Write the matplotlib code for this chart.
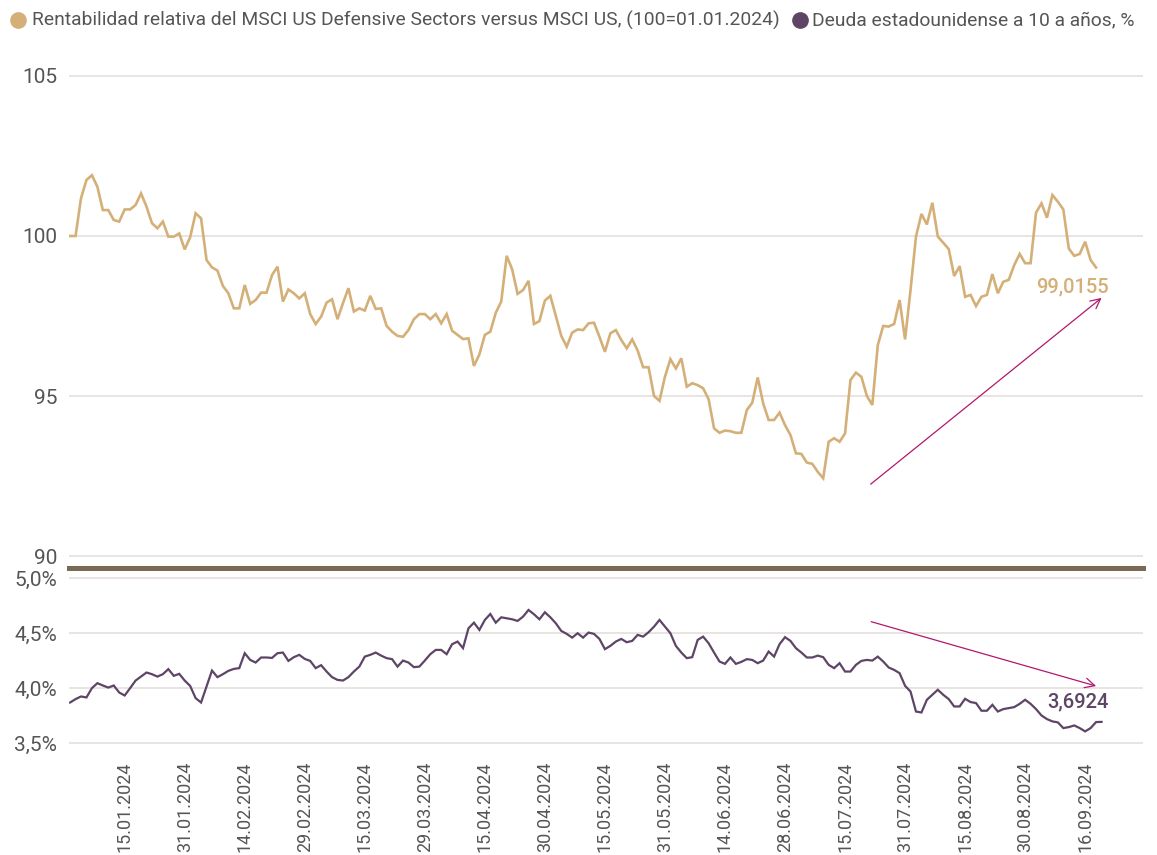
import matplotlib
matplotlib.use("Agg")
import matplotlib.pyplot as plt
import numpy as np
from matplotlib.lines import Line2D
from matplotlib.ticker import FuncFormatter

plt.rcParams["font.family"] = ["Roboto", "DejaVu Sans"]

LEGEND_REL = "Rentabilidad relativa del MSCI US Defensive Sectors versus MSCI US, (100=01.01.2024)"
LEGEND_YIELD = "Deuda estadounidense a 10 a años, %"

DATE_LABELS = [
    "15.01.2024", "31.01.2024", "14.02.2024", "29.02.2024", "15.03.2024",
    "29.03.2024", "15.04.2024", "30.04.2024", "15.05.2024", "31.05.2024",
    "14.06.2024", "28.06.2024", "15.07.2024", "31.07.2024", "15.08.2024",
    "30.08.2024", "16.09.2024",
]

# relative performance, index 100 = 01.01.2024 (one value per trading day)
DEFENSIVE_REL = [
    100.0, 100.0, 101.18, 101.75, 101.9, 101.54, 100.81, 100.81, 100.5, 100.45,
    100.83, 100.83, 100.97, 101.33, 100.92, 100.4, 100.24, 100.45, 99.98, 99.98,
    100.08, 99.58, 99.96, 100.71, 100.55, 99.25, 99.02, 98.92, 98.44, 98.21,
    97.74, 97.74, 98.47, 97.88, 98.0, 98.23, 98.23, 98.78, 99.04, 97.95,
    98.33, 98.21, 98.05, 98.21, 97.56, 97.25, 97.48, 97.92, 98.02, 97.4,
    97.9, 98.37, 97.64, 97.74, 97.67, 98.13, 97.72, 97.74, 97.19, 97.01,
    96.88, 96.85, 97.06, 97.4, 97.56, 97.56, 97.4, 97.56, 97.27, 97.56,
    97.04, 96.91, 96.78, 96.8, 95.94, 96.3,
    96.91, 97.01, 97.6, 97.95, 99.38, 98.96, 98.19, 98.31, 98.6, 97.25,
    97.34, 97.98, 98.13, 97.5, 96.88, 96.54, 96.98, 97.08, 97.06, 97.27,
    97.29, 96.85, 96.38, 96.96, 97.06, 96.75, 96.49, 96.77, 96.42, 95.9,
    95.9, 95.0, 94.85, 95.6, 96.15, 95.86, 96.18, 95.29, 95.4, 95.34,
    95.24, 94.9, 93.99, 93.85, 93.92, 93.9, 93.85, 93.85, 94.56, 94.79,
    95.58, 94.77, 94.25, 94.25, 94.48, 94.09, 93.78, 93.21, 93.19, 92.92,
    92.88, 92.63, 92.43, 93.57, 93.68, 93.57, 93.83, 95.5, 95.73, 95.6,
    95.0, 94.72, 96.59,
    97.19, 97.17, 97.25, 98.0, 96.77, 98.31, 99.98, 100.69, 100.36, 101.04,
    99.98, 99.79, 99.59, 98.75, 99.06, 98.1, 98.16, 97.81, 98.1, 98.16,
    98.81, 98.21, 98.57, 98.63, 99.09, 99.44, 99.15, 99.15, 100.73, 101.02,
    100.57, 101.28, 101.07, 100.83, 99.61, 99.38, 99.44, 99.82, 99.25, 99.0155,
]

# US 10y treasury yield, %
US10Y = [
    3.869, 3.9, 3.924, 3.915, 4.0, 4.045, 4.024, 4.005, 4.024, 3.96,
    3.933, 4.0, 4.069, 4.105, 4.142, 4.127, 4.105, 4.127, 4.173, 4.112,
    4.13, 4.069, 4.02, 3.909, 3.869, 4.015, 4.16, 4.1, 4.127, 4.157,
    4.175, 4.182, 4.318, 4.257, 4.233, 4.279, 4.279, 4.275, 4.318, 4.324,
    4.248, 4.282, 4.303, 4.266, 4.248, 4.182, 4.209, 4.151, 4.1, 4.075,
    4.069, 4.1, 4.151, 4.196, 4.287, 4.303, 4.324, 4.296, 4.273, 4.264,
    4.196, 4.251, 4.233, 4.191, 4.196, 4.251, 4.309, 4.348, 4.348, 4.309,
    4.40,
    4.424, 4.364, 4.545, 4.596, 4.53, 4.621, 4.675, 4.596, 4.645, 4.636,
    4.627, 4.612, 4.651, 4.712, 4.673, 4.627, 4.691, 4.645, 4.591, 4.521,
    4.494, 4.46, 4.5, 4.46, 4.506, 4.494, 4.448, 4.355, 4.385, 4.424,
    4.448, 4.418, 4.43, 4.485, 4.469, 4.509, 4.56, 4.621, 4.56, 4.5,
    4.385, 4.324, 4.273, 4.282, 4.439, 4.469, 4.409, 4.324, 4.242, 4.221,
    4.279, 4.221, 4.239, 4.264, 4.257, 4.227, 4.251, 4.333, 4.287, 4.4,
    4.464, 4.43, 4.364, 4.324, 4.279, 4.279, 4.296, 4.282, 4.212, 4.182,
    4.227, 4.151, 4.151, 4.212, 4.248, 4.257, 4.251, 4.287, 4.242, 4.188,
    4.166, 4.136, 4.021, 3.969, 3.787, 3.778, 3.894, 3.939, 3.985, 3.939,
    3.9, 3.833, 3.833, 3.903, 3.873, 3.864, 3.794, 3.794, 3.848, 3.787,
    3.809, 3.818, 3.827, 3.857, 3.894, 3.857, 3.809, 3.751, 3.718, 3.697,
    3.688, 3.636, 3.645, 3.66, 3.636, 3.606, 3.636, 3.691, 3.6924,
]

GOLD = "#d4b078"
PURPLE = "#5e4566"
ARROW = "#b3186b"
GRID = "#e3ddd8"
TEXT = "#555555"
SEPARATOR = "#7a6a55"

W, H = 1157, 855


def fmt_pct(v, _pos):
    return f"{v:.1f}%".replace(".", ",")


def style_axis(ax):
    for side in ("top", "right", "left", "bottom"):
        ax.spines[side].set_visible(False)
    ax.yaxis.grid(True, color=GRID, linewidth=1.1)
    ax.set_axisbelow(True)
    ax.tick_params(length=0, labelcolor=TEXT)
    ax.tick_params(axis="y", pad=8.5, labelsize=15)
    ax.set_xlim(-0.2, 196.6)


fig = plt.figure(figsize=(W / 100, H / 100), dpi=100)
ax_top = fig.add_axes([69 / W, 1 - 568 / H, 1074 / W, 508 / H])
ax_bot = fig.add_axes([69 / W, 1 - 745 / H, 1074 / W, 177 / H])

x_rel = np.arange(len(DEFENSIVE_REL))
x_yld = np.arange(len(US10Y))

ax_top.plot(x_rel, DEFENSIVE_REL, color=GOLD, linewidth=1.9, solid_joinstyle="miter")
ax_bot.plot(x_yld, US10Y, color=PURPLE, linewidth=1.6, solid_joinstyle="miter")

style_axis(ax_top)
style_axis(ax_bot)

ax_top.set_ylim(89.625, 105.5)
ax_top.set_yticks([90, 95, 100, 105])
ax_top.set_xticks([])

ax_bot.set_ylim(3.482, 5.094)
ax_bot.set_yticks([3.5, 4.0, 4.5, 5.0])
ax_bot.yaxis.set_major_formatter(FuncFormatter(fmt_pct))
ax_bot.set_xticks(np.arange(10, 10 + 11 * len(DATE_LABELS), 11))
ax_bot.set_xticklabels(DATE_LABELS, rotation=90, fontsize=13)
ax_bot.tick_params(axis="x", pad=12)

# thick separator between the two panels
ax_bot.spines["top"].set_visible(True)
ax_bot.spines["top"].set_color(SEPARATOR)
ax_bot.spines["top"].set_linewidth(3.6)

# last-value labels
ax_top.annotate(
    f"{DEFENSIVE_REL[-1]:.4f}".replace(".", ","),
    xy=(x_rel[-1], DEFENSIVE_REL[-1]),
    xytext=(9, -14),
    textcoords="offset points",
    ha="right",
    va="center",
    fontsize=14.5,
    fontweight="medium",
    color=GOLD,
)
ax_bot.annotate(
    f"{US10Y[-1]:.4f}".replace(".", ","),
    xy=(x_yld[-1], US10Y[-1]),
    xytext=(5, 14.5),
    textcoords="offset points",
    ha="right",
    va="center",
    fontsize=14.5,
    fontweight="medium",
    color=PURPLE,
)

# trend arrows
arrow_props = dict(arrowstyle="->,head_length=0.7,head_width=0.35", color=ARROW, lw=0.9)
ax_top.annotate("", xy=(189.4, 98.12), xytext=(146.3, 92.19), arrowprops=arrow_props)
ax_bot.annotate("", xy=(188.5, 4.012), xytext=(146.3, 4.612), arrowprops=arrow_props)

# legend
legend_y = 1 - 20 / H
fig.add_artist(Line2D([18 / W], [legend_y], marker="o", markersize=11, color=GOLD,
                      linestyle="none", transform=fig.transFigure))
fig.text(32 / W, legend_y, LEGEND_REL, ha="left", va="center", fontsize=13.9, color=TEXT)
fig.add_artist(Line2D([800 / W], [legend_y], marker="o", markersize=11, color=PURPLE,
                      linestyle="none", transform=fig.transFigure))
fig.text(812 / W, legend_y, LEGEND_YIELD, ha="left", va="center", fontsize=13.9, color=TEXT)

fig.savefig("out.png", dpi=100)
